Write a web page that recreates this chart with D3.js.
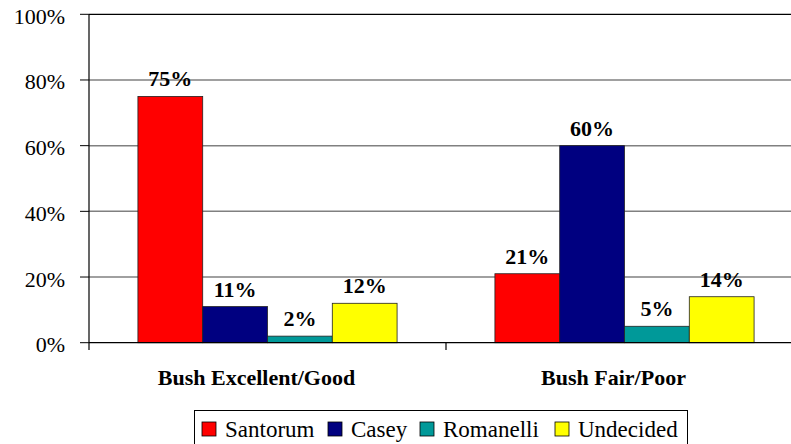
<!DOCTYPE html>
<html>
<head>
<meta charset="utf-8">
<script src="https://cdn.jsdelivr.net/npm/d3@7"></script>
</head>
<body style="margin:0">
<div id="chart"></div>
<script>
var categories = ['Bush Excellent/Good', 'Bush Fair/Poor'];
var seriesNames = ['Santorum', 'Casey', 'Romanelli', 'Undecided'];
var santorum = [75, 21];
var casey = [11, 60];
var romanelli = [2, 5];
var undecided = [12, 14];
var yTicks = [0, 20, 40, 60, 80, 100];
var colors = ['#ff0000', '#000080', '#009999', '#ffff00'];

function fontStyle(size, bold) {
    return 'font-family: "Times New Roman", Tinos, "Liberation Serif"; font-size: ' + size + 'px;' +
        (bold ? ' font-weight: bold;' : '');
}

function drawPollChart() {
    var width = 791, height = 444;
    var seriesValues = [santorum, casey, romanelli, undecided];

    var rows = categories.map(function(c, i){
        return {
            category: c,
            values: seriesNames.map(function(s, j){ return { name: s, value: seriesValues[j][i], color: colors[j] }; })
        };
    });

    var svg = d3.select('#chart').append('svg')
        .attr('width', width)
        .attr('height', height);

    // category band continues past the right edge, clipped like the original
    var x0 = d3.scaleBand().domain(categories).range([89, 803]);
    var x1 = d3.scaleBand().domain(seriesNames).range([0, x0.bandwidth()]).paddingOuter(0.755);
    var y = d3.scaleLinear().domain([0, 100]).range([342.7, 14.3]);

    // gridlines
    svg.append('g').selectAll('line')
        .data(yTicks.filter(function(t){ return t > 0; }))
        .enter().append('line')
        .attr('x1', 89).attr('x2', width)
        .attr('y1', function(d){ return y(d); })
        .attr('y2', function(d){ return y(d); })
        .attr('stroke', function(d){ return d === 100 ? '#000' : '#808080'; })
        .attr('stroke-width', function(d){ return d === 100 ? 1.2 : 1.5; });

    // y axis
    svg.append('g').selectAll('line')
        .data(yTicks)
        .enter().append('line')
        .attr('x1', 80).attr('x2', 89)
        .attr('y1', function(d){ return y(d); })
        .attr('y2', function(d){ return y(d); })
        .attr('stroke', '#000');
    svg.append('g').selectAll('text')
        .data(yTicks)
        .enter().append('text')
        .attr('x', 65)
        .attr('y', function(d){ return y(d) + 9.5; })
        .attr('text-anchor', 'end')
        .attr('style', fontStyle(22, false))
        .text(function(d){ return d + '%'; });
    svg.append('line')
        .attr('x1', 89).attr('x2', 89)
        .attr('y1', y(100)).attr('y2', 350)
        .attr('stroke', '#000').attr('stroke-width', 1.2);

    // bars
    var groups = svg.selectAll('g.cat')
        .data(rows)
        .enter().append('g')
        .attr('class', 'cat')
        .attr('transform', function(d){ return 'translate(' + x0(d.category) + ',0)'; });

    groups.selectAll('rect')
        .data(function(d){ return d.values; })
        .enter().append('rect')
        .attr('x', function(d){ return x1(d.name); })
        .attr('y', function(d){ return y(d.value); })
        .attr('width', x1.bandwidth())
        .attr('height', function(d){ return y(0) - y(d.value); })
        .attr('fill', function(d){ return d.color; })
        .attr('stroke', '#222')
        .attr('stroke-width', 0.8);

    groups.selectAll('text.val')
        .data(function(d){ return d.values; })
        .enter().append('text')
        .attr('class', 'val')
        .attr('x', function(d){ return x1(d.name) + x1.bandwidth() / 2; })
        .attr('y', function(d){ return y(d.value) - 10; })
        .attr('text-anchor', 'middle')
        .attr('style', fontStyle(22, true))
        .text(function(d){ return d.value + '%'; });

    // x axis baseline + category ticks
    svg.append('line')
        .attr('x1', 89).attr('x2', width)
        .attr('y1', y(0)).attr('y2', y(0))
        .attr('stroke', '#000').attr('stroke-width', 1.2);
    svg.append('g').selectAll('line')
        .data(categories.slice(1))
        .enter().append('line')
        .attr('x1', function(d){ return x0(d); })
        .attr('x2', function(d){ return x0(d); })
        .attr('y1', y(0)).attr('y2', 350)
        .attr('stroke', '#000').attr('stroke-width', 1.2);

    svg.append('g').selectAll('text')
        .data(categories)
        .enter().append('text')
        .attr('x', function(d){ return x0(d) + x0.bandwidth() / 2 - 11; })
        .attr('y', 385)
        .attr('text-anchor', 'middle')
        .attr('style', fontStyle(22, true))
        .text(function(d){ return d; });

    // legend
    var legendX = [202, 328, 420, 555];
    var legend = svg.append('g');
    legend.append('rect')
        .attr('x', 194.5).attr('y', 410.5)
        .attr('width', 493).attr('height', 50)
        .attr('fill', '#fff')
        .attr('stroke', '#000').attr('stroke-width', 1);
    legend.selectAll('rect.sw')
        .data(seriesNames)
        .enter().append('rect')
        .attr('class', 'sw')
        .attr('x', function(d, i){ return legendX[i]; })
        .attr('y', 422)
        .attr('width', 14).attr('height', 14)
        .attr('fill', function(d, i){ return colors[i]; })
        .attr('stroke', '#000').attr('stroke-width', 0.8);
    legend.selectAll('text')
        .data(seriesNames)
        .enter().append('text')
        .attr('x', function(d, i){ return legendX[i] + 23; })
        .attr('y', 437)
        .attr('style', fontStyle(23, false))
        .text(function(d){ return d; });
}

drawPollChart();
</script>
</body>
</html>
